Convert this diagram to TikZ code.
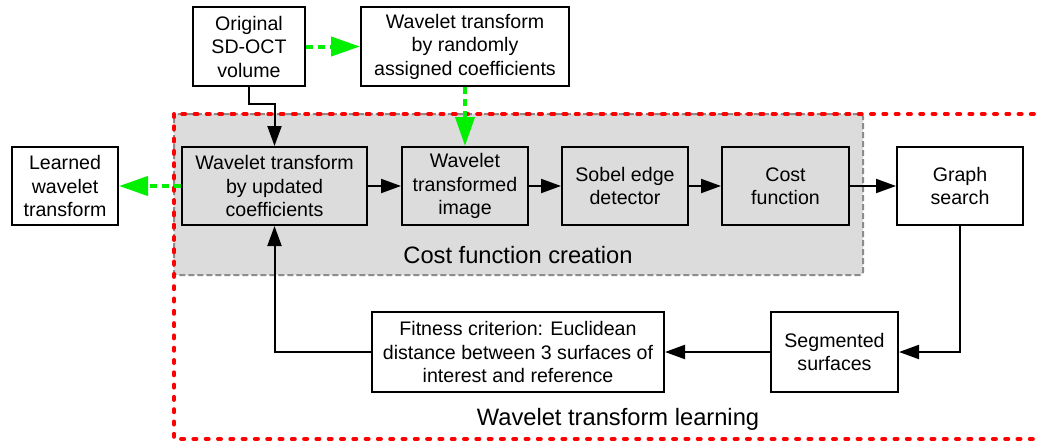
\documentclass[tikz,border=0pt]{standalone}
\usepackage{fontspec}
\setmainfont{Liberation Sans}
\usetikzlibrary{arrows.meta}
\definecolor{grayfill}{HTML}{DCDCDC}
\definecolor{grayline}{HTML}{8C8C8C}
\definecolor{brightgreen}{HTML}{00F000}
\definecolor{brightred}{HTML}{FF0000}
\begin{document}
\begin{tikzpicture}[x=1pt,y=-1pt,
  box/.style={draw=black, line width=2pt, align=center, inner sep=0pt,
    font=\fontsize{19.6}{23.5}\selectfont, text=black},
  caption/.style={font=\fontsize{23.7}{28}\selectfont, anchor=base, inner sep=0pt},
  arr/.style={draw=black, line width=2pt, -{Triangle[length=20pt,width=14pt]}},
  garr/.style={draw=brightgreen, line width=4pt, dash pattern=on 7pt off 5pt,
    -{Triangle[length=29pt,width=19pt]}},
  grayregion/.style={fill=grayfill, draw=grayline, line width=2pt,
    dash pattern=on 6pt off 3pt, rounded corners=3pt},
  redregion/.style={draw=brightred, line width=4pt, line cap=round,
    dash pattern=on 3pt off 9.3pt}
]
\useasboundingbox (0,0) rectangle (1039,442);
\fill[white] (0,0) rectangle (1039,442);

% regions
\draw[grayregion] (174,114) rectangle (863,275);
\draw[redregion] (174,114) rectangle (1060,439);

% boxes
\node[box, minimum width=112pt, minimum height=79pt] (orig) at (249,46.5) {Original\\SD-OCT\\volume};
\node[box, minimum width=208pt, minimum height=79pt] (rand) at (465,46.5) {Wavelet transform\\by randomly\\assigned coefficients};
\node[box, minimum width=106pt, minimum height=78pt] (learned) at (65,186) {Learned\\wavelet\\transform};
\node[box, minimum width=185pt, minimum height=78pt] (upd) at (274.5,186) {Wavelet transform\\by updated\\coefficients};
\node[box, minimum width=126pt, minimum height=78pt] (wti) at (465,186) {Wavelet\\transformed\\image};
\node[box, minimum width=126pt, minimum height=78pt] (sobel) at (625,186) {Sobel edge\\detector};
\node[box, minimum width=127pt, minimum height=78pt] (cost) at (785.5,186) {Cost\\function};
\node[box, minimum width=126pt, minimum height=78pt] (graph) at (960,186) {Graph\\search};
\node[box, minimum width=292pt, minimum height=80pt] (fit) at (518,352) {Fitness criterion: Euclidean\\distance between 3 surfaces of\\interest and reference};
\node[box, minimum width=127pt, minimum height=80pt] (seg) at (834.5,352) {Segmented\\surfaces};

% captions
\node[caption] (cap1) at (518,263) {Cost function creation};
\node[caption] (cap2) at (618,425) {Wavelet transform learning};

% connectors
\draw[arr] (orig.south) -- ++(0,17) -| (upd.north);
\draw[garr] (orig.east) -- (rand.west);
\draw[garr] (rand.south) -- (wti.north);
\draw[garr] (upd.west) -- (learned.east);
\draw[arr] (upd.east) -- (wti.west);
\draw[arr] (wti.east) -- (sobel.west);
\draw[arr] (sobel.east) -- (cost.west);
\draw[arr] (cost.east) -- (graph.west);
\draw[arr] (graph.south) |- (seg.east);
\draw[arr] (seg.west) -- (fit.east);
\draw[arr] (fit.west) -| (upd.south);
\end{tikzpicture}
\end{document}
